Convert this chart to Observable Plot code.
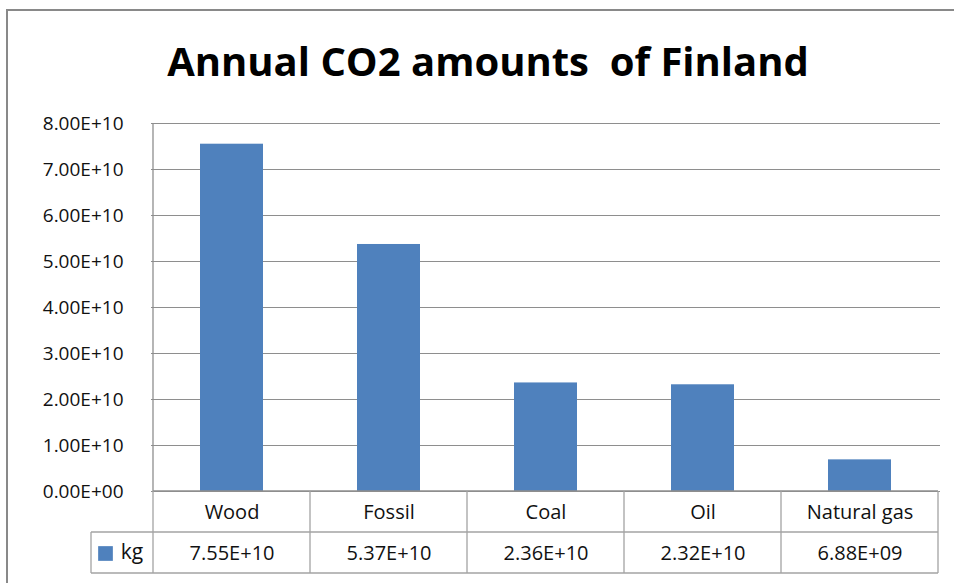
<!DOCTYPE html>
<html>
<head>
<meta charset="utf-8">
<script src="https://cdn.jsdelivr.net/npm/d3@7"></script>
<script src="https://cdn.jsdelivr.net/npm/@observablehq/plot@0.6"></script>
<style>
  html, body { margin: 0; padding: 0; background: #fff; overflow: hidden; }
  #wrap { position: relative; width: 954px; height: 583px; overflow: hidden; }
  #border { position: absolute; left: 6px; top: 9px; width: 1000px; height: 700px;
            border: 2.5px solid #898989; box-sizing: border-box; }
  #chart { position: absolute; left: 0; top: 0; }
</style>
</head>
<body>
<div id="wrap"><div id="border"></div><div id="chart"></div></div>
<script>
// ---- data ----
const title = "Annual CO2 amounts  of Finland";
const categories = ["Wood", "Fossil", "Coal", "Oil", "Natural gas"];
const values = [7.55e10, 5.37e10, 2.36e10, 2.32e10, 6.88e9];
const seriesName = "kg";
const yTicks = [0, 1e10, 2e10, 3e10, 4e10, 5e10, 6e10, 7e10, 8e10];

const data = categories.map((c, i) => ({category: c, value: values[i]}));

// Excel-style scientific format: 7.55E+10, 6.88E+09, 0.00E+00
function sci(v) {
  const [m, e] = v.toExponential(2).split("e");
  const sign = e[0] === "-" ? "-" : "+";
  const digits = e.replace(/^[+-]/, "").padStart(2, "0");
  return `${m}E${sign}${digits}`;
}

const FONT = '"Open Sans", "Liberation Sans", sans-serif';
const BLUE = "#4F81BD";
const GRID = "#8e8e8e";
const TABLE = "#a3a3a3";
const ROW = 41; // table row height (px)

const plot = Plot.plot({
  width: 954,
  height: 583,
  marginLeft: 151,
  marginRight: 14,
  marginTop: 123,
  marginBottom: 92,
  style: {fontFamily: FONT, color: "#111", background: "transparent", overflow: "visible"},
  x: {domain: categories, paddingInner: 0.6, paddingOuter: 0.3, axis: null},
  y: {domain: [0, 8e10], axis: null, label: null},
  marks: [
    Plot.gridY(yTicks, {stroke: GRID, strokeOpacity: 1, strokeWidth: 1.2}),
    Plot.axisY(yTicks, {tickSize: 0, tickPadding: 28, tickFormat: sci, fontSize: 19, fill: "#111", label: null}),
    Plot.barY(data, {x: "category", y: "value", fill: BLUE}),
    // table: category row
    Plot.text(categories, {x: d => d, text: d => d, frameAnchor: "bottom", lineAnchor: "middle", dy: 21, fontSize: 20, fill: "#111"}),
    // table: value row
    Plot.text(data, {x: "category", text: d => sci(d.value), frameAnchor: "bottom", lineAnchor: "middle", dy: 62, fontSize: 20, fill: "#111"}),
    // legend key in the table
    Plot.dot([seriesName], {frameAnchor: "bottom-left", dx: -46, dy: 62, symbol: "square", r: 8.3, fill: BLUE}),
    Plot.text([seriesName], {frameAnchor: "bottom-left", textAnchor: "middle", lineAnchor: "middle", dx: -19.5, dy: 61, text: d => d, fontSize: 21, fill: "#111"}),
    // title
    Plot.text([title], {frameAnchor: "top", lineAnchor: "middle", dx: -58, dy: -60, text: d => d, fontSize: 40, fontWeight: "bold", fill: "#000"})
  ]
});

document.getElementById("chart").append(plot);

// table borders and left axis line, positioned from Plot's own scales
const xs = plot.scale("x");
const ys = plot.scale("y");
const half = (xs.step - xs.bandwidth) / 2;
const edges = categories.map(c => xs.apply(c) - half);
edges.push(edges[edges.length - 1] + xs.step);
const left = edges[0], right = edges[edges.length - 1];
const y0 = ys.apply(0), yTop = ys.apply(yTicks[yTicks.length - 1]);
const keyLeft = left - 62;

const svg = d3.select(plot);
const g = svg.append("g").attr("stroke", TABLE).attr("stroke-width", 1.3).attr("fill", "none");
const line = (x1, y1, x2, y2, color) => g.append("line")
  .attr("x1", x1).attr("y1", y1).attr("x2", x2).attr("y2", y2)
  .attr("stroke", color || TABLE);
line(left, yTop, left, y0, GRID);
line(left, y0, right, y0, GRID);
line(keyLeft, y0 + ROW, right, y0 + ROW);
line(keyLeft, y0 + 2 * ROW, right, y0 + 2 * ROW);
line(keyLeft, y0 + ROW, keyLeft, y0 + 2 * ROW);
edges.forEach(x => line(x, y0, x, y0 + 2 * ROW));
svg.selectAll("text").style("white-space", "pre");
</script>
</body>
</html>
